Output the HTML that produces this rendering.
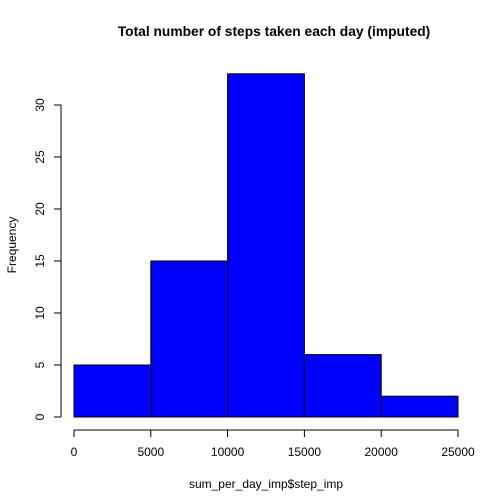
<!DOCTYPE html>
<html><head><meta charset="utf-8"><style>
body{margin:0;background:#fff}
svg{display:block;font-family:"Liberation Sans",Arial,sans-serif}
</style></head><body>
<svg id="chart" width="504" height="504">
<text x="274" y="36" text-anchor="middle" font-size="13.8" font-weight="bold">Total number of steps taken each day (imputed)</text>
<text x="266" y="488" text-anchor="middle" font-size="12">sum_per_day_imp$step_imp</text>
<text transform="translate(16,245) rotate(-90)" text-anchor="middle" font-size="12">Frequency</text>
<g id="bars"></g><g id="xaxis"></g><g id="yaxis"></g>
</svg>
<script>
const binEdges=[0,5000,10000,15000,20000,25000];
const counts=[5,15,33,6,2];
const xTicks=[0,5000,10000,15000,20000,25000];
const yTicks=[0,5,10,15,20,25,30];
const NS="http://www.w3.org/2000/svg";
const X=v=>74+(v/25000)*384;
const Y=v=>417-v*10.4;
function mk(t,a,p){const e=document.createElementNS(NS,t);for(const k in a)e.setAttribute(k,a[k]);p.appendChild(e);return e;}
const bars=document.getElementById('bars');
counts.forEach((c,i)=>{
 const r=mk('rect',{x:X(binEdges[i]),y:Y(c),width:X(binEdges[i+1])-X(binEdges[i]),height:Y(0)-Y(c),fill:'#0000ff',stroke:'#000','stroke-width':1},bars);
 
 
});
const xa=document.getElementById('xaxis');


mk('line',{x1:X(xTicks[0]),x2:X(xTicks[xTicks.length-1]),y1:430,y2:430,stroke:'#000'},xa);
xTicks.forEach(t=>{
 mk('line',{x1:X(t),x2:X(t),y1:430,y2:437,stroke:'#000'},xa);
 const tx=mk('text',{x:X(t),y:456,'text-anchor':'middle','font-size':12},xa);tx.textContent=t;
 
 
});
const ya=document.getElementById('yaxis');


mk('line',{x1:61,x2:61,y1:Y(yTicks[0]),y2:Y(yTicks[yTicks.length-1]),stroke:'#000'},ya);
yTicks.forEach(t=>{
 mk('line',{x1:54,x2:61,y1:Y(t),y2:Y(t),stroke:'#000'},ya);
 const tx=mk('text',{transform:`translate(44,${Y(t)}) rotate(-90)`,'text-anchor':'middle','font-size':12},ya);tx.textContent=t;
 
 
});
</script>
</body></html>
